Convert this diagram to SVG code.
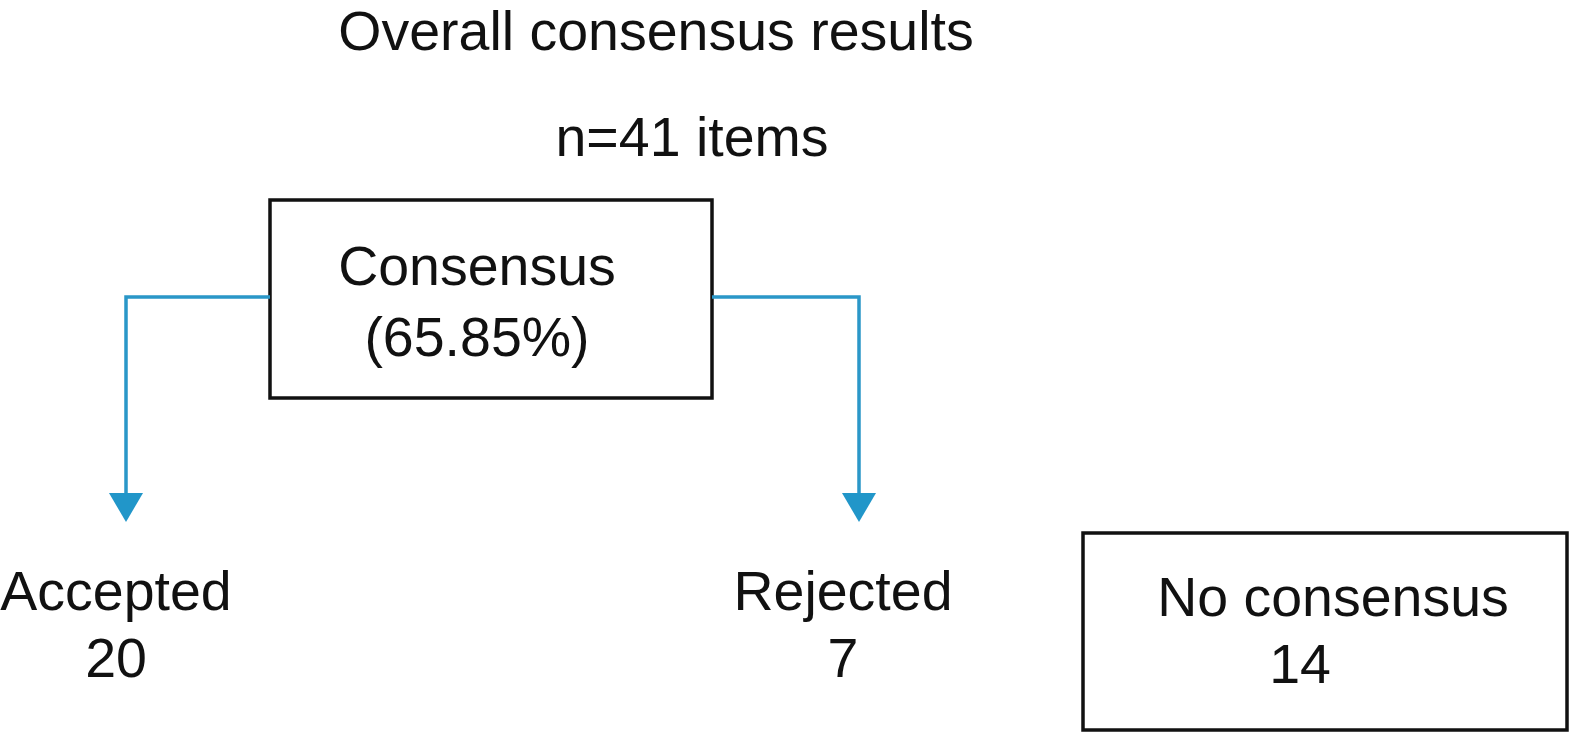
<svg xmlns="http://www.w3.org/2000/svg" width="1570" height="733" viewBox="0 0 1570 733">
<defs>
<style>
text{font-family:"Liberation Sans",Arial,sans-serif;font-size:55.5px;fill:#111;}
.box{fill:#fff;stroke:#111;stroke-width:3.5;}
.conn{fill:none;stroke:#2a97c8;stroke-width:3.5;}
.head{fill:#2196c9;}
</style>
</defs>
<rect width="1570" height="733" fill="#fff"/>
<g id="title">
<text x="656" y="50" text-anchor="middle">Overall consensus results</text>
<text x="692" y="156" text-anchor="middle">n=41 items</text>
</g>
<g id="consensus">
<rect class="box" x="270" y="200" width="442" height="198"/>
<text x="477" y="285" text-anchor="middle">Consensus</text>
<text x="477" y="356" text-anchor="middle">(65.85%)</text>
</g>
<g id="connectors">
<path class="conn" d="M270,297 H126 V496"/>
<polygon class="head" points="109,493 143,493 126,522"/>
<path class="conn" d="M712,297 H859 V496"/>
<polygon class="head" points="842,493 876,493 859,522"/>
</g>
<g id="accepted">
<text x="116" y="610" text-anchor="middle">Accepted</text>
<text x="116" y="677" text-anchor="middle">20</text>
</g>
<g id="rejected">
<text x="843" y="610" text-anchor="middle">Rejected</text>
<text x="843" y="677" text-anchor="middle">7</text>
</g>
<g id="no-consensus">
<rect class="box" x="1083" y="533" width="484" height="197"/>
<text x="1333" y="616" text-anchor="middle">No consensus</text>
<text x="1300" y="683" text-anchor="middle">14</text>
</g>
</svg>
